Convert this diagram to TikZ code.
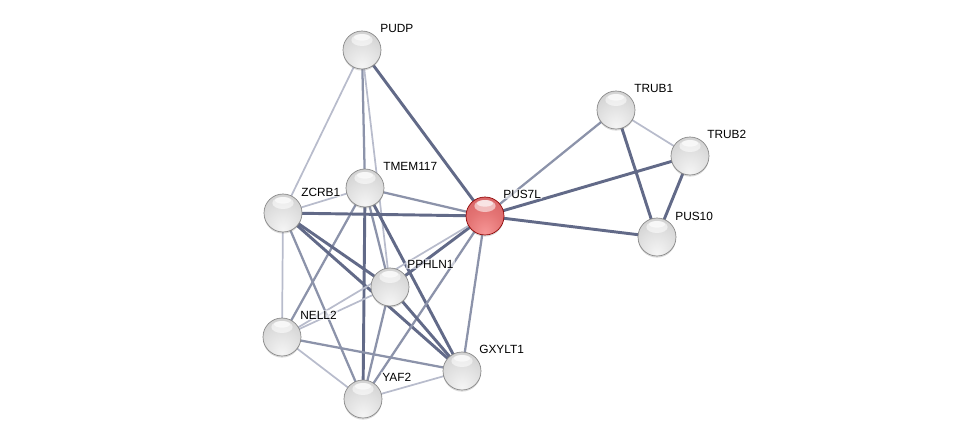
\documentclass[tikz,border=0pt]{standalone}
\usepackage{fontspec}
\setmainfont{Liberation Sans}
\usetikzlibrary{backgrounds,shadows}
\pgfdeclareradialshading{graysphere}{\pgfpoint{0bp}{-22bp}}{%
  color(0bp)=(white!96!black);
  color(22bp)=(white!88!black);
  color(44bp)=(white!79!black);
  color(62bp)=(white!68!black);
  color(74bp)=(white!52!black)}
\pgfdeclareradialshading{redsphere}{\pgfpoint{0bp}{-22bp}}{%
  color(0bp)=(rgb,255:red,246;green,150;blue,150);
  color(22bp)=(rgb,255:red,228;green,116;blue,116);
  color(44bp)=(rgb,255:red,212;green,94;blue,96);
  color(62bp)=(rgb,255:red,186;green,66;blue,68);
  color(74bp)=(rgb,255:red,150;green,36;blue,38)}
\definecolor{eLight}{RGB}{184,188,204}
\definecolor{eMid}{RGB}{140,147,170}
\definecolor{eDark}{RGB}{98,106,136}
\tikzset{
  prot/.style={circle, minimum size=28.5pt, inner sep=0pt, shading=graysphere, draw=black!48, line width=0.5pt,
    drop shadow={opacity=0.3, shadow xshift=0pt, shadow yshift=-1.2pt}},
  protred/.style={prot, shading=redsphere, draw=black!45!red},
  lbl/.style={anchor=west, font=\fontsize{8.9pt}{10pt}\selectfont, inner sep=0.8pt, text=black,
    fill=white, fill opacity=0.55, text opacity=1},
  ew/.style={eLight, line width=1.3pt},
  em/.style={eMid, line width=1.7pt},
  ed/.style={eDark, line width=2.2pt}
}
\begin{document}
\begin{tikzpicture}[x=0.75pt,y=-0.75pt]
\useasboundingbox (0,0) rectangle (976,444);
% nodes
\node[prot] (PUDP) at (362,50) {};
\node[prot] (TMEM117) at (365,188) {};
\node[prot] (ZCRB1) at (283,213) {};
\node[protred] (PUS7L) at (485,216) {};
\node[prot] (PPHLN1) at (390,287) {};
\node[prot] (NELL2) at (282,337) {};
\node[prot] (GXYLT1) at (462,371) {};
\node[prot] (YAF2) at (363,399) {};
\node[prot] (TRUB1) at (616,110) {};
\node[prot] (TRUB2) at (690,156) {};
\node[prot] (PUS10) at (657,237) {};
% highlights
\foreach \n in {PUDP,TMEM117,ZCRB1,PUS7L,PPHLN1,NELL2,GXYLT1,YAF2,TRUB1,TRUB2,PUS10}{
  \fill[white, opacity=0.55] ([yshift=7.5pt]\n.center) ellipse (8pt and 4.5pt);
  \fill[white, opacity=0.6] ([yshift=9.5pt]\n.center) ellipse (6pt and 2.5pt);
}
% labels
\node[lbl] (PUDPl) at (379,28) {PUDP};
\node[lbl] (TMEM117l) at (382,166) {TMEM117};
\node[lbl] (ZCRB1l) at (300,192) {ZCRB1};
\node[lbl] (PUS7Ll) at (502,194) {PUS7L};
\node[lbl] (PPHLN1l) at (406,264) {PPHLN1};
\node[lbl] (NELL2l) at (299,315) {NELL2};
\node[lbl] (GXYLT1l) at (478,349) {GXYLT1};
\node[lbl] (YAF2l) at (381,377) {YAF2};
\node[lbl] (TRUB1l) at (633,88) {TRUB1};
\node[lbl] (TRUB2l) at (706,134) {TRUB2};
\node[lbl] (PUS10l) at (674,216) {PUS10};
% edges
\begin{scope}[on background layer]
\draw[ew] (PUDP.center) -- (ZCRB1.center);
\draw[em] (PUDP.center) -- (TMEM117.center);
\draw[ew] (PUDP.center) -- (PPHLN1.center);
\draw[ed] (PUDP.center) -- (PUS7L.center);
\draw[ew] (TMEM117.center) -- (ZCRB1.center);
\draw[em] (TMEM117.center) -- (PUS7L.center);
\draw[em] (TMEM117.center) -- (NELL2.center);
\draw[ed] (TMEM117.center) -- (YAF2.center);
\draw[em] (TMEM117.center) -- (PPHLN1.center);
\draw[ed] (TMEM117.center) -- (GXYLT1.center);
\draw[ed] (ZCRB1.center) -- (PUS7L.center);
\draw[ew] (ZCRB1.center) -- (NELL2.center);
\draw[ed] (ZCRB1.center) -- (PPHLN1.center);
\draw[ed] (ZCRB1.center) -- (GXYLT1.center);
\draw[em] (ZCRB1.center) -- (YAF2.center);
\draw[ed] (PUS7L.center) -- (PPHLN1.center);
\draw[ew] (PUS7L.center) -- (NELL2.center);
\draw[em] (PUS7L.center) -- (YAF2.center);
\draw[em] (PUS7L.center) -- (GXYLT1.center);
\draw[em] (PUS7L.center) -- (TRUB1.center);
\draw[ed] (PUS7L.center) -- (TRUB2.center);
\draw[ed] (PUS7L.center) -- (PUS10.center);
\draw[ew] (TRUB1.center) -- (TRUB2.center);
\draw[ed] (TRUB1.center) -- (PUS10.center);
\draw[ed] (TRUB2.center) -- (PUS10.center);
\draw[ew] (PPHLN1.center) -- (NELL2.center);
\draw[em] (PPHLN1.center) -- (YAF2.center);
\draw[ed] (PPHLN1.center) -- (GXYLT1.center);
\draw[ew] (NELL2.center) -- (YAF2.center);
\draw[em] (NELL2.center) -- (GXYLT1.center);
\draw[ew] (YAF2.center) -- (GXYLT1.center);
\end{scope}
\end{tikzpicture}
\end{document}
